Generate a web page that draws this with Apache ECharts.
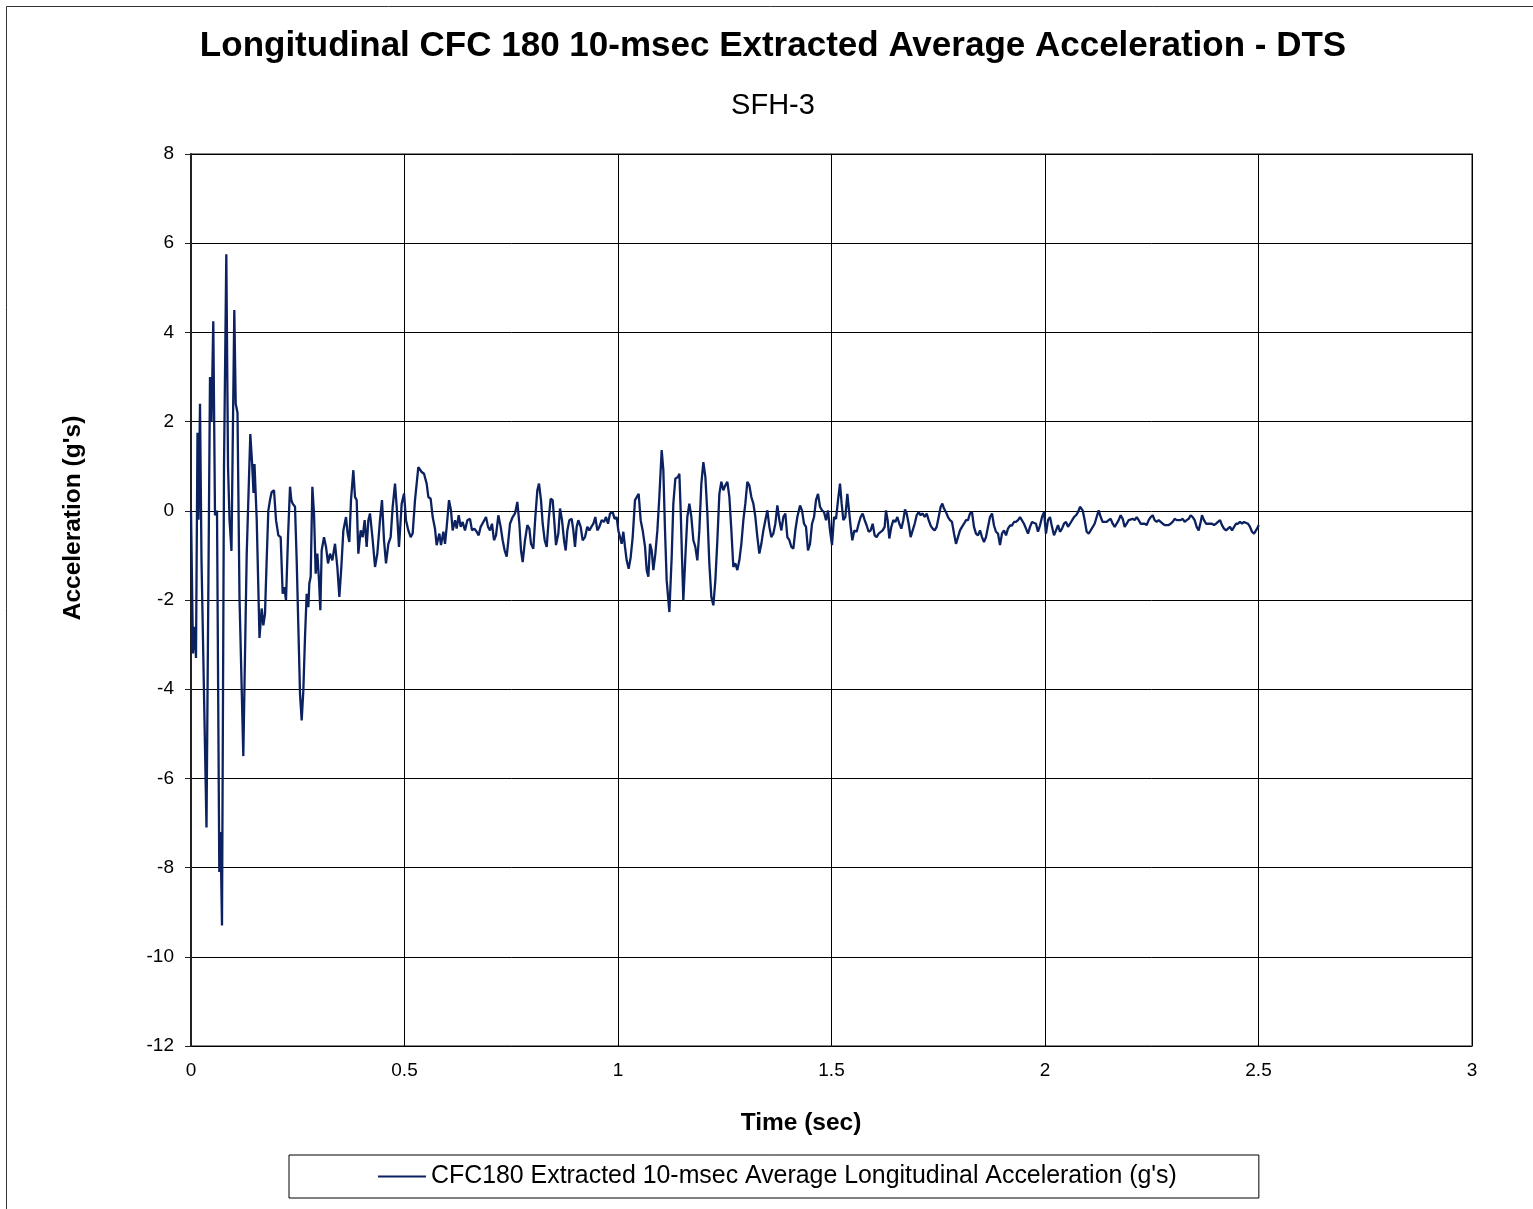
<!DOCTYPE html>
<html>
<head>
<meta charset="utf-8">
<script src="https://cdn.jsdelivr.net/npm/echarts@6/dist/echarts.min.js"></script>
<style>
html,body{margin:0;padding:0;background:#fff;}
#chart{width:1533px;height:1209px;}
</style>
</head>
<body>
<div id="chart"></div>
<script>
// ---- Data: [time (sec), acceleration (g's)] ----
var impactPhase = [
[0.0000,0.00],[0.0047,-3.20],[0.0082,-2.60],[0.0117,-3.30],[0.0152,1.75],[0.0176,-0.20],
[0.0211,2.40],[0.0246,-1.10],[0.0363,-7.10],[0.0445,3.00],[0.0480,2.00],[0.0522,4.25],
[0.0562,-0.10],[0.0609,0.00],[0.0663,-8.10],[0.0691,-7.20],[0.0726,-9.30],[0.0773,1.00],
[0.0827,5.75],[0.0867,1.00],[0.0902,-0.20],[0.0948,-0.90],[0.1014,4.50],[0.1047,2.40],
[0.1089,2.20],[0.1136,-1.95],[0.1225,-5.50],[0.1304,-1.00],[0.1389,1.72],[0.1429,1.10],
[0.1464,0.40],[0.1487,1.05],[0.1539,-0.20],[0.1576,-1.70],[0.1604,-2.85]
];
var reboundPhase = [
[0.1655,-2.19],[0.1694,-2.57],[0.1733,-2.31],[0.1772,-1.11],[0.1811,0.01],[0.1850,0.24],
[0.1889,0.42],[0.1944,0.46],[0.1991,-0.21],[0.2046,-0.55],[0.2100,-0.59],[0.2147,-1.86],
[0.2186,-1.71],[0.2225,-2.01],[0.2272,-0.59],[0.2319,0.54],[0.2350,0.24],[0.2381,0.16],
[0.2436,0.09],[0.2475,-1.11],[0.2514,-2.60],[0.2553,-4.10],[0.2592,-4.70],[0.2631,-4.03],
[0.2670,-2.83],[0.2709,-1.86],[0.2748,-2.16],[0.2771,-1.63],[0.2803,-1.48],[0.2842,0.54],
[0.2881,-0.06],[0.2920,-1.41],[0.2959,-0.96],[0.2998,-1.56],[0.3029,-2.23],[0.3060,-0.89],
[0.3115,-0.59],[0.3162,-0.81],[0.3209,-1.18],[0.3256,-0.96],[0.3310,-1.11],[0.3373,-0.74],
[0.3427,-1.26],[0.3474,-1.93],[0.3521,-1.26],[0.3568,-0.44],[0.3630,-0.14],[0.3669,-0.51],
[0.3708,-0.70],[0.3747,0.24],[0.3802,0.91],[0.3841,0.31],[0.3880,0.24],[0.3919,-0.96],
[0.3974,-0.44],[0.4021,-0.59],[0.4067,-0.21],[0.4114,-0.81],[0.4153,-0.21],[0.4192,-0.06],
[0.4255,-0.66],[0.4310,-1.26],[0.4364,-0.96],[0.4426,-0.21],[0.4473,0.24],[0.4520,-0.66],
[0.4567,-1.18],[0.4622,-0.74],[0.4676,-0.59],[0.4723,0.09],[0.4778,0.61],[0.4817,0.09],
[0.4871,-0.81],[0.4934,0.16],[0.4989,0.39],[0.5035,-0.21],[0.5090,-0.44],[0.5145,-0.59]
];
var firstRideout = [
[0.5191,-0.51],[0.5246,0.24],[0.5324,0.98],[0.5402,0.87],[0.5457,0.83],[0.5519,0.61],
[0.5558,0.31],[0.5613,0.27],[0.5660,-0.14],[0.5714,-0.40],[0.5753,-0.77],[0.5816,-0.51],
[0.5855,-0.77],[0.5910,-0.47],[0.5949,-0.74],[0.5988,-0.36],[0.6042,0.24],[0.6089,0.01],
[0.6128,-0.44],[0.6183,-0.21],[0.6222,-0.40],[0.6269,-0.10],[0.6316,-0.36],[0.6362,-0.25],
[0.6417,-0.44],[0.6472,-0.21],[0.6534,-0.18],[0.6581,-0.44],[0.6636,-0.40],[0.6690,-0.47],
[0.6737,-0.55],[0.6784,-0.36],[0.6846,-0.25],[0.6909,-0.14],[0.6956,-0.36],[0.7003,-0.44],
[0.7049,-0.29],[0.7096,-0.66],[0.7143,-0.55],[0.7198,-0.10],[0.7252,-0.36],[0.7299,-0.66],
[0.7346,-0.89],[0.7393,-1.03],[0.7440,-0.59],[0.7471,-0.29],[0.7533,-0.14],[0.7588,-0.06],
[0.7643,0.20],[0.7690,-0.29],[0.7729,-0.89],[0.7768,-1.15],[0.7822,-0.66],[0.7877,-0.32],
[0.7924,-0.40],[0.7963,-0.74],[0.8017,-0.85],[0.8064,-0.14],[0.8111,0.46],[0.8150,0.61],
[0.8197,0.24],[0.8236,-0.29],[0.8283,-0.66],[0.8330,-0.81],[0.8376,-0.21],[0.8423,0.27],
[0.8470,0.24],[0.8509,-0.25],[0.8548,-0.77],[0.8603,-0.51],[0.8642,0.05],[0.8689,-0.21],
[0.8736,-0.66],[0.8775,-0.89],[0.8814,-0.44],[0.8861,-0.21],[0.8915,-0.18],[0.8954,-0.44],
[0.8993,-0.81],[0.9032,-0.36],[0.9071,-0.21],[0.9126,-0.36],[0.9173,-0.66],[0.9227,-0.59],
[0.9282,-0.36],[0.9329,-0.44],[0.9376,-0.36],[0.9423,-0.29],[0.9469,-0.14],[0.9516,-0.44],
[0.9563,-0.36],[0.9618,-0.21],[0.9672,-0.25],[0.9719,-0.14],[0.9766,-0.29],[0.9813,-0.06]
];
var secondImpact = [
[0.9875,-0.03],[0.9922,-0.18],[0.9969,-0.14],[1.0008,-0.44],[1.0047,-0.59],[1.0086,-0.74],
[1.0125,-0.47],[1.0164,-0.81],[1.0203,-1.11],[1.0250,-1.30],[1.0297,-1.04],[1.0344,-0.59],
[1.0398,0.24],[1.0438,0.24],[1.0484,0.38],[1.0531,-0.21],[1.0578,-0.44],[1.0633,-0.81],
[1.0672,-1.33],[1.0711,-1.48],[1.0750,-0.74],[1.0789,-0.89],[1.0828,-1.33],[1.0875,-0.96],
[1.0922,-0.44],[1.0968,0.31],[1.1023,1.36],[1.1062,0.91],[1.1101,-0.44],[1.1140,-1.56],
[1.1203,-2.27],[1.1257,-1.04],[1.1296,0.16],[1.1343,0.72],[1.1406,0.76],[1.1437,0.83],
[1.1468,0.01],[1.1499,-1.04],[1.1530,-2.01],[1.1577,-1.04],[1.1624,-0.14],[1.1671,0.16],
[1.1718,-0.14],[1.1765,-0.66],[1.1811,-0.81],[1.1858,-1.11],[1.1905,-0.44],[1.1952,0.61],
[1.1999,1.09],[1.2046,0.76],[1.2093,-0.06],[1.2139,-1.18],[1.2186,-1.93],[1.2233,-2.12],
[1.2280,-1.56],[1.2327,-0.66],[1.2374,0.38],[1.2420,0.65],[1.2467,0.46],[1.2514,0.57],
[1.2561,0.65],[1.2608,0.31],[1.2655,-0.44],[1.2701,-1.26],[1.2748,-1.18],[1.2795,-1.33],
[1.2842,-1.11],[1.2889,-0.74],[1.2936,-0.21],[1.2982,0.16],[1.3029,0.65],[1.3076,0.57],
[1.3123,0.31],[1.3170,0.16],[1.3217,-0.14],[1.3264,-0.59],[1.3310,-0.96],[1.3357,-0.74],
[1.3404,-0.44],[1.3451,-0.21],[1.3498,0.01],[1.3545,-0.36],[1.3591,-0.59],[1.3638,-0.51],
[1.3685,-0.29],[1.3732,0.12],[1.3779,-0.21],[1.3826,-0.44],[1.3872,-0.14],[1.3919,-0.06],
[1.3966,-0.59],[1.4013,-0.66],[1.4060,-0.81],[1.4107,-0.85],[1.4153,-0.44],[1.4200,-0.14],
[1.4263,0.12],[1.4309,0.01],[1.4356,-0.29],[1.4403,-0.36],[1.4450,-0.89],[1.4497,-0.74],
[1.4544,-0.29],[1.4591,-0.14],[1.4637,0.24],[1.4684,0.38],[1.4731,0.09],[1.4778,0.01],
[1.4825,-0.03],[1.4872,-0.21],[1.4918,0.01],[1.4965,-0.44],[1.5012,-0.77],[1.5059,-0.14],
[1.5106,-0.18],[1.5153,0.24],[1.5199,0.61]
];
var decayPhase = [
[1.5238,0.16],[1.5277,-0.21],[1.5324,-0.14],[1.5371,0.38],[1.5410,0.01],[1.5449,-0.36],
[1.5488,-0.66],[1.5535,-0.44],[1.5589,-0.47],[1.5636,-0.29],[1.5683,-0.14],[1.5730,-0.06],
[1.5777,-0.21],[1.5824,-0.33],[1.5870,-0.47],[1.5917,-0.44],[1.5964,-0.29],[1.6011,-0.55],
[1.6058,-0.59],[1.6105,-0.51],[1.6151,-0.47],[1.6198,-0.44],[1.6245,-0.36],[1.6276,0.01],
[1.6315,-0.21],[1.6354,-0.62],[1.6401,-0.36],[1.6448,-0.21],[1.6495,-0.25],[1.6542,-0.14],
[1.6589,-0.29],[1.6635,-0.40],[1.6682,-0.21],[1.6721,0.03],[1.6760,-0.06],[1.6807,-0.29],
[1.6854,-0.59],[1.6901,-0.44],[1.6948,-0.29],[1.6995,-0.10],[1.7041,-0.03],[1.7088,-0.10],
[1.7135,-0.06],[1.7182,-0.14],[1.7229,-0.06],[1.7276,-0.21],[1.7322,-0.33],[1.7369,-0.40],
[1.7416,-0.44],[1.7463,-0.36],[1.7510,-0.14],[1.7557,0.09],[1.7596,0.16],[1.7635,0.05],
[1.7681,-0.03],[1.7728,-0.14],[1.7775,-0.21],[1.7822,-0.25],[1.7869,-0.51],[1.7916,-0.74],
[1.7962,-0.59],[1.8009,-0.44],[1.8056,-0.36],[1.8103,-0.29],[1.8150,-0.21],[1.8197,-0.21],
[1.8243,-0.06],[1.8290,-0.03],[1.8337,-0.36],[1.8384,-0.51],[1.8431,-0.55],[1.8478,-0.44],
[1.8525,-0.59],[1.8571,-0.70],[1.8618,-0.59],[1.8665,-0.36],[1.8712,-0.14],[1.8759,-0.06],
[1.8806,-0.33],[1.8852,-0.47],[1.8899,-0.51],[1.8946,-0.77],[1.8993,-0.51],[1.9040,-0.44],
[1.9087,-0.55],[1.9133,-0.40],[1.9180,-0.33],[1.9227,-0.33],[1.9274,-0.25],[1.9321,-0.25],
[1.9368,-0.21],[1.9415,-0.14],[1.9461,-0.18],[1.9508,-0.29],[1.9555,-0.40],[1.9602,-0.51],
[1.9649,-0.36],[1.9696,-0.25],[1.9742,-0.21],[1.9789,-0.29],[1.9836,-0.47],[1.9883,-0.33],
[1.9930,-0.14],[1.9977,-0.03],[2.0023,-0.51]
];
var tailPhase = [
[2.0070,-0.21],[2.0117,-0.14],[2.0164,-0.36],[2.0211,-0.55],[2.0258,-0.44],[2.0305,-0.32],
[2.0351,-0.47],[2.0398,-0.40],[2.0445,-0.29],[2.0492,-0.25],[2.0539,-0.36],[2.0586,-0.29],
[2.0632,-0.25],[2.0679,-0.14],[2.0726,-0.10],[2.0773,-0.03],[2.0820,0.09],[2.0851,0.12],
[2.0882,0.01],[2.0929,-0.21],[2.0976,-0.47],[2.1023,-0.51],[2.1070,-0.44],[2.1116,-0.44],
[2.1163,-0.29],[2.1210,-0.14],[2.1257,0.01],[2.1304,-0.14],[2.1351,-0.25],[2.1397,-0.21],
[2.1444,-0.25],[2.1491,-0.21],[2.1538,-0.18],[2.1585,-0.29],[2.1632,-0.36],[2.1678,-0.29],
[2.1725,-0.21],[2.1772,-0.10],[2.1819,-0.18],[2.1866,-0.36],[2.1913,-0.29],[2.1960,-0.21],
[2.2006,-0.25],[2.2053,-0.18],[2.2100,-0.21],[2.2147,-0.14],[2.2194,-0.21],[2.2241,-0.29],
[2.2287,-0.25],[2.2334,-0.29],[2.2381,-0.32],[2.2428,-0.21],[2.2475,-0.14],[2.2522,-0.10],
[2.2568,-0.21],[2.2615,-0.25],[2.2662,-0.21],[2.2709,-0.25],[2.2756,-0.29],[2.2803,-0.32],
[2.2849,-0.36],[2.2896,-0.32],[2.2943,-0.29],[2.2990,-0.25],[2.3037,-0.18],[2.3084,-0.21],
[2.3130,-0.25],[2.3177,-0.21],[2.3224,-0.18],[2.3271,-0.25],[2.3318,-0.21],[2.3365,-0.18],
[2.3411,-0.10],[2.3458,-0.14],[2.3505,-0.21],[2.3552,-0.36],[2.3599,-0.44],[2.3646,-0.25],
[2.3677,-0.10],[2.3724,-0.21],[2.3771,-0.29],[2.3817,-0.25],[2.3864,-0.29],[2.3911,-0.29],
[2.3958,-0.32],[2.4005,-0.29],[2.4052,-0.25],[2.4099,-0.21],[2.4145,-0.32],[2.4192,-0.40],
[2.4239,-0.44],[2.4286,-0.40],[2.4333,-0.36],[2.4380,-0.44],[2.4426,-0.40],[2.4473,-0.29],
[2.4520,-0.29],[2.4567,-0.25],[2.4614,-0.29],[2.4661,-0.25],[2.4707,-0.21],[2.4754,-0.29],
[2.4801,-0.36],[2.4848,-0.47],[2.4895,-0.51],[2.4942,-0.44],[2.4989,-0.36],[2.5000,-0.32]
];
var xTicks = [0, 0.5, 1, 1.5, 2, 2.5, 3];
var yTicks = [-12, -10, -8, -6, -4, -2, 0, 2, 4, 6, 8];
var seriesName = "CFC180 Extracted 10-msec Average Longitudinal Acceleration (g's)";
var chartTitle = "Longitudinal CFC 180 10-msec Extracted Average Acceleration - DTS";
var chartSubtitle = "SFH-3";
var xName = "Time (sec)";
var yName = "Acceleration (g's)";

var FONT = "'Liberation Sans', Arial, Helvetica, sans-serif";
var allData = [].concat(impactPhase, reboundPhase, firstRideout, secondImpact, decayPhase, tailPhase);

var chart = echarts.init(document.getElementById('chart'), null, {renderer: 'canvas'});
chart.setOption({
  animation: false,
  backgroundColor: '#ffffff',
  title: [
    {text: chartTitle, left: 773, top: 29, textAlign: 'center', padding: 0,
     textStyle: {fontFamily: FONT, fontSize: 35, fontWeight: 'bold', color: '#000'}},
    {text: chartSubtitle, left: 773, top: 91, textAlign: 'center', padding: 0,
     textStyle: {fontFamily: FONT, fontSize: 29, fontWeight: 'normal', color: '#000'}}
  ],
  graphic: [
    {type: 'rect', shape: {x: 6.5, y: 6.5, width: 1560, height: 1240}, silent: true,
     style: {fill: 'none', stroke: '#333', lineWidth: 1}, z: -10},
    {type: 'text', x: 73, y: 518, rotation: Math.PI / 2, silent: true,
     style: {text: yName, textAlign: 'center', textVerticalAlign: 'middle',
             font: "bold 24.5px 'Liberation Sans', Arial, sans-serif", fill: '#000'}},
    {type: 'text', x: 801, y: 1123, silent: true,
     style: {text: xName, textAlign: 'center', textVerticalAlign: 'middle',
             font: "bold 24.5px 'Liberation Sans', Arial, sans-serif", fill: '#000'}}
  ],
  legend: {
    left: 289, top: 1155,
    padding: [9, 82, 9, 89],
    borderColor: '#000', borderWidth: 1,
    itemWidth: 48, itemHeight: 2, itemGap: 5,
    icon: 'rect',
    textStyle: {fontFamily: FONT, fontSize: 24.9, color: '#000', padding: [0, 0, 0, 0]},
    data: [{name: seriesName, icon: 'rect'}]
  },
  grid: {
    left: 191, top: 154, right: 61, bottom: 163,
    show: true, borderColor: '#888', borderWidth: 2, backgroundColor: 'transparent'
  },
  xAxis: {
    type: 'value',
    min: xTicks[0], max: xTicks[xTicks.length - 1], interval: xTicks[1] - xTicks[0],
    axisLine: {show: false},
    axisTick: {show: false},
    axisLabel: {fontFamily: FONT, fontSize: 19, color: '#000', margin: 15},
    splitLine: {show: true, lineStyle: {color: '#000', width: 1}}
  },
  yAxis: {
    type: 'value',
    min: yTicks[0], max: yTicks[yTicks.length - 1], interval: yTicks[1] - yTicks[0],
    axisLine: {show: true, onZero: false, lineStyle: {color: '#222', width: 2}},
    axisTick: {show: true, inside: false, length: 6, lineStyle: {color: '#222', width: 1}},
    axisLabel: {fontFamily: FONT, fontSize: 19, color: '#000', margin: 17},
    splitLine: {show: true, lineStyle: {color: '#000', width: 1}}
  },
  series: [{
    name: seriesName,
    type: 'line',
    data: allData,
    showSymbol: false,
    symbol: 'none',
    lineStyle: {color: '#0b2160', width: 2.3},
    itemStyle: {color: '#0b2160'},
    z: 5
  }]
});
</script>
</body>
</html>
